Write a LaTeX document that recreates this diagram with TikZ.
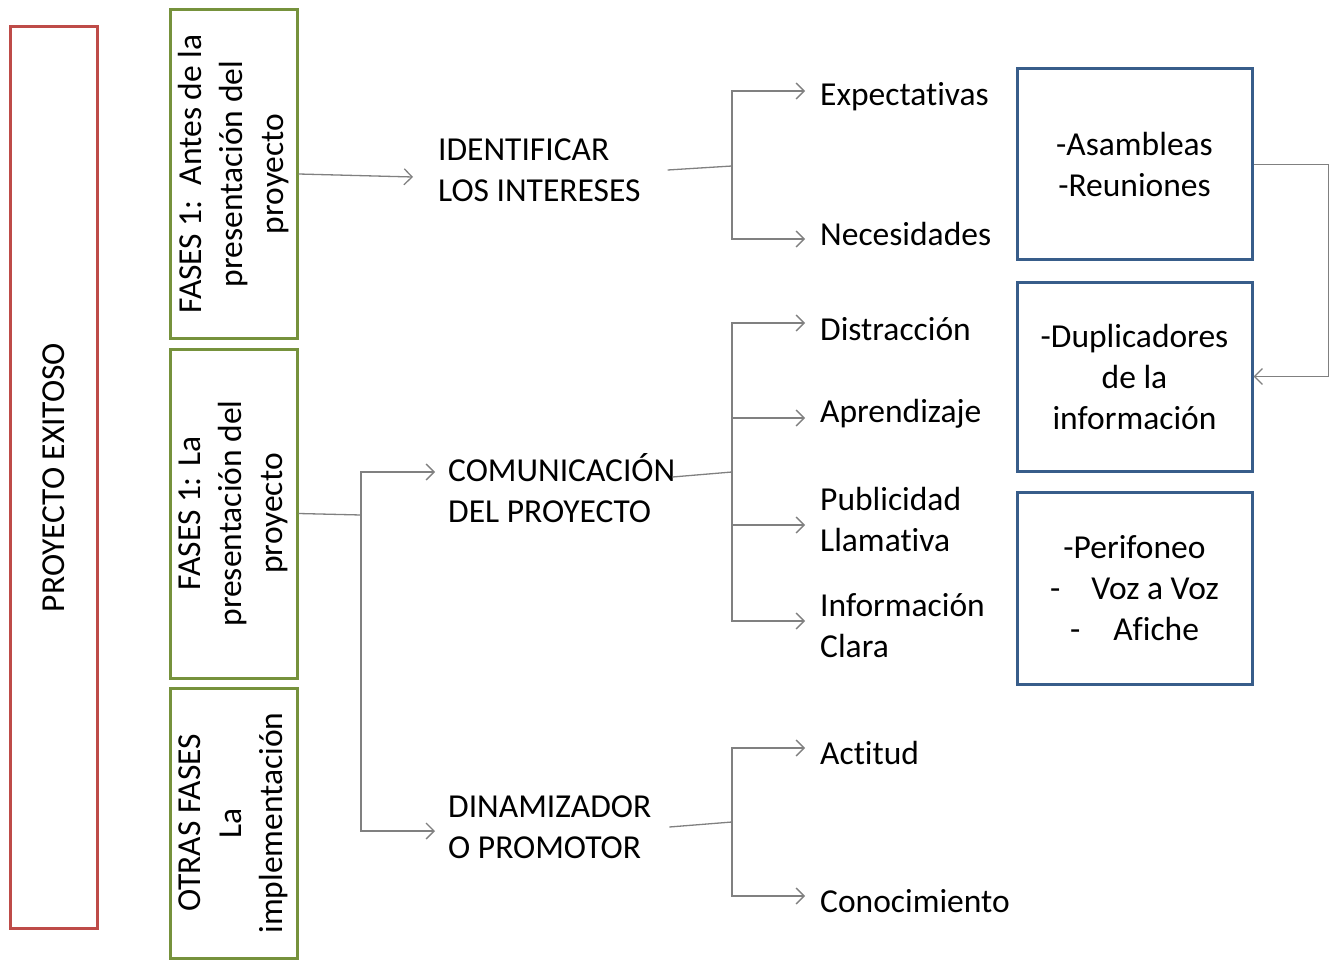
\documentclass[tikz,border=0pt]{standalone}
\usepackage{fontspec}
\setmainfont{Carlito}[Ligatures=CommonOff]
\usetikzlibrary{arrows.meta}
\definecolor{redb}{RGB}{190,75,72}
\definecolor{greenb}{RGB}{118,146,60}
\definecolor{blueb}{RGB}{56,93,138}
\definecolor{conng}{RGB}{128,128,128}
\tikzset{
  txt/.style={inner sep=0pt, align=left, font=\fontsize{33.5}{41}\selectfont},
  ctxt/.style={inner sep=0pt, align=center, font=\fontsize{33.5}{41}\selectfont},
  redbox/.style={draw=redb, line width=3pt, inner sep=0pt},
  greenbox/.style={draw=greenb, line width=3pt, inner sep=0pt, minimum width=127pt},
  bluebox/.style={draw=blueb, line width=3pt, inner sep=0pt, minimum width=235pt, minimum height=191pt, align=center, font=\fontsize{33.5}{41}\selectfont},
  conn/.style={draw=conng, line width=1.3pt},
  arr/.style={conn, -{Straight Barb[length=8pt,width=16pt]}},
}
\begin{document}
\begin{tikzpicture}[x=1pt,y=-1pt]
\useasboundingbox (0,0) rectangle (1331,960);
% left column
\node[redbox, minimum width=87pt, minimum height=901pt] (proj) at (53.5,477.5) {};
\node[ctxt, rotate=90] (projt) at (proj.center) {PROYECTO EXITOSO};
\node[greenbox, minimum height=328pt] (g1) at (233.5,174) {};
\node[ctxt, rotate=90] (g1t) at (g1.center) {FASES 1:\ \ Antes de la\\presentación del\\proyecto};
\node[greenbox, minimum height=329pt] (g2) at (233.5,513.5) {};
\node[ctxt, rotate=90] (g2t) at (g2.center) {FASES 1: La\\presentación del\\proyecto};
\node[greenbox, minimum height=270pt] (g3) at (233.5,823) {};
\node[ctxt, rotate=90] (g3t) at (g3.center) {OTRAS FASES\\La\\implementación};
% middle column
\node[txt, anchor=west] (ident) at (438,170) {IDENTIFICAR\\LOS INTERESES};
\node[txt, anchor=west] (comm) at (448,488) {COMUNICACIÓN\\DEL PROYECTO};
\node[txt, anchor=west] (dinam) at (448,827) {DINAMIZADOR\\O PROMOTOR};
% leaves
\node[txt, anchor=west] (expe) at (820,97) {Expectativas};
\node[txt, anchor=west] (nece) at (820,234) {Necesidades};
\node[txt, anchor=west] (dist) at (820,329) {Distracción};
\node[txt, anchor=west] (apre) at (820,414) {Aprendizaje};
\node[txt, anchor=west] (publ) at (820,519.5) {Publicidad\\Llamativa};
\node[txt, anchor=west] (info) at (820,625.5) {Información\\Clara};
\node[txt, anchor=west] (acti) at (820,753) {Actitud};
\node[txt, anchor=west] (cono) at (820,901) {Conocimiento};
% blue boxes
\node[bluebox] (b1) at (1134.5,164.5) {-Asambleas\\-Reuniones};
\node[bluebox, minimum height=189pt] (b2) at (1134.5,376.5) {-Duplicadores\\de la\\información};
\node[bluebox, minimum height=192pt] (b3) at (1134.5,588) {-Perifoneo\\-\hspace{31pt}Voz a Voz\\-\hspace{33pt}Afiche};
% junctions
\coordinate (j1) at (732,166);
\coordinate (j2) at (361,515);
\coordinate (j3) at (732,472);
\coordinate (j4) at (732,822);
% connectors
\draw[arr] (g1.east) -- ([xshift=-25pt,yshift=-7pt]ident.west);
\draw[conn] ([xshift=27pt]ident.east) -- (j1);
\draw[arr] (j1) |- ([xshift=-15pt,yshift=6pt]expe.west);
\draw[arr] (j1) |- ([xshift=-15pt,yshift=-5pt]nece.west);
\draw[conn] (g2.east) -- (j2);
\draw[arr] (j2) |- ([xshift=-13pt,yshift=16pt]comm.west);
\draw[arr] (j2) |- ([xshift=-13pt,yshift=-4pt]dinam.west);
\draw[conn] ([xshift=-3pt,yshift=11pt]comm.east) -- (j3);
\draw[arr] (j3) |- ([xshift=-15pt,yshift=6pt]dist.west);
\draw[arr] (j3) |- ([xshift=-15pt,yshift=-4pt]apre.west);
\draw[arr] (j3) |- ([xshift=-15pt,yshift=-5.5pt]publ.west);
\draw[arr] (j3) |- ([xshift=-15pt,yshift=4.5pt]info.west);
\draw[conn] ([xshift=18pt]dinam.east) -- (j4);
\draw[arr] (j4) |- ([xshift=-15pt,yshift=5pt]acti.west);
\draw[arr] (j4) |- ([xshift=-15pt,yshift=5pt]cono.west);
\draw[arr] (b1.east) -- ++(75,0) |- (b2.east);
\end{tikzpicture}
\end{document}
